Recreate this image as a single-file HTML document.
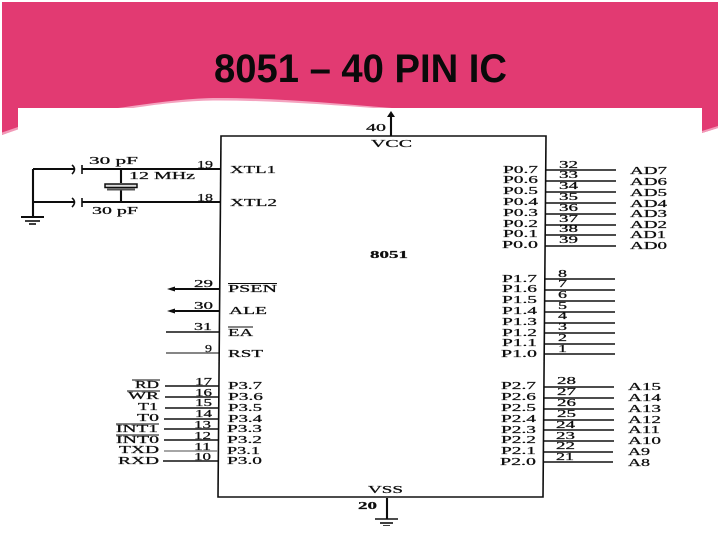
<!DOCTYPE html>
<html><head><meta charset="utf-8"><style>
html,body{margin:0;padding:0;background:#fff;width:720px;height:540px;overflow:hidden}
svg{display:block}
.d text{font-family:"Liberation Serif",serif;font-size:11px;fill:#111;stroke:#111;stroke-width:.25}
.d line,.d polyline,.d polygon.o,.d path.o{stroke:#111;stroke-width:1.6;fill:none}
.d .k{stroke-width:2.1}
</style></head><body>
<svg width="720" height="540" viewBox="0 0 720 540" xmlns="http://www.w3.org/2000/svg">
<defs><filter id="b" x="0" y="0" width="100%" height="100%"><feGaussianBlur stdDeviation="0.3"/></filter></defs>
<path d="M2,2 H718 V128 L702,133 V108 H18 V129 L2,135 Z" fill="#e23a72"/>
<path d="M2,132.500 L18,127 V129.500 L2,135 Z" fill="#f29ab8"/>
<path d="M702,131 L718,126 V128 L702,133 Z" fill="#f29ab8"/>
<path d="M118,108 C160,102 190,98 218,98 C280,98 340,104 392,108 Z" fill="#f4a3bf"/>
<path d="M130,108.500 C165,103 192,100.500 218,100.500 C275,100.500 330,105 380,108.500 Z" fill="#fff"/>
<rect x="18" y="108" width="684" height="432" fill="#fff"/>
<text x="214" y="82" font-family="'Liberation Sans',sans-serif" font-weight="700" font-size="40" fill="#0a0a0a" textLength="293" lengthAdjust="spacingAndGlyphs">8051 – 40 PIN IC</text>

<g class="d" filter="url(#b)">
<polygon class="o k" points="221,136 546,136 543,497 218,497"/>
<line class="k" x1="391" y1="136" x2="391" y2="116"/>
<polygon points="391,111 387,117 395,117" fill="#111"/>
<text x="366" y="131" textLength="20" lengthAdjust="spacingAndGlyphs">40</text>
<text x="371" y="147" textLength="41" lengthAdjust="spacingAndGlyphs">VCC</text>
<text x="370" y="258" textLength="38" lengthAdjust="spacingAndGlyphs" font-weight="700">8051</text>
<text x="368" y="493" textLength="35" lengthAdjust="spacingAndGlyphs">VSS</text>
<text x="358" y="509" textLength="19" lengthAdjust="spacingAndGlyphs" font-weight="700">20</text>
<line class="k" x1="387" y1="498" x2="387" y2="519"/>
<line x1="375" y1="519" x2="398" y2="519"/><line x1="380" y1="523" x2="393" y2="523"/><line x1="383" y1="526" x2="390" y2="526"/>

<!-- crystal -->
<line class="k" x1="33" y1="169" x2="33" y2="217"/>
<line class="k" x1="33" y1="169" x2="74" y2="169"/>
<line class="k" x1="33" y1="202" x2="74" y2="202"/>
<path class="o k" d="M72,165 Q77,169 72,174"/><path class="o k" d="M72,198 Q77,202 72,207"/>
<line x1="82" y1="165" x2="82" y2="174"/><line x1="82" y1="198" x2="82" y2="207"/>
<line class="k" x1="82" y1="169" x2="221" y2="169"/><line class="k" x1="82" y1="202" x2="221" y2="202"/>
<line class="k" x1="21" y1="217" x2="44" y2="217"/><line x1="25" y1="221" x2="40" y2="221"/><line x1="29" y1="224" x2="36" y2="224"/>
<line class="k" x1="121" y1="169" x2="121" y2="183"/><line class="k" x1="121" y1="190" x2="121" y2="202"/>
<rect x="105" y="184" width="32" height="3.500" fill="#ddd" stroke="#111" stroke-width="1.500"/>
<line x1="107" y1="189.500" x2="135" y2="189.500" style="stroke:#555;stroke-width:2"/>
<text x="89" y="164" textLength="49" lengthAdjust="spacingAndGlyphs">30 pF</text>
<text x="129" y="179" textLength="66" lengthAdjust="spacingAndGlyphs">12 MHz</text>
<text x="92" y="214" textLength="46" lengthAdjust="spacingAndGlyphs">30 pF</text>
<text x="197" y="168" textLength="16" lengthAdjust="spacingAndGlyphs">19</text>
<text x="197" y="201" textLength="16" lengthAdjust="spacingAndGlyphs">18</text>
<text x="230" y="173" textLength="46" lengthAdjust="spacingAndGlyphs">XTL1</text>
<text x="230" y="206" textLength="47" lengthAdjust="spacingAndGlyphs">XTL2</text>

<!-- control -->
<line class="k" x1="172" y1="289" x2="220" y2="289"/><polygon points="167,289 175,286.500 175,291.500" fill="#111"/>
<line class="k" x1="172" y1="311" x2="220" y2="311"/><polygon points="167,311 175,308.500 175,313.500" fill="#111"/>
<line x1="166" y1="332" x2="220" y2="332"/>
<line x1="166" y1="353" x2="219" y2="353" style="stroke-width:1"/>
<text x="194" y="287" textLength="19" lengthAdjust="spacingAndGlyphs">29</text>
<text x="194" y="309" textLength="19" lengthAdjust="spacingAndGlyphs">30</text>
<text x="194" y="330" textLength="18" lengthAdjust="spacingAndGlyphs">31</text>
<text x="205" y="352" textLength="7" lengthAdjust="spacingAndGlyphs">9</text>
<text x="228" y="292" textLength="49" lengthAdjust="spacingAndGlyphs">PSEN</text><line x1="228" y1="283.500" x2="277" y2="283.500" style="stroke-width:1"/>
<text x="229" y="314" textLength="38" lengthAdjust="spacingAndGlyphs">ALE</text>
<text x="228" y="336" textLength="25" lengthAdjust="spacingAndGlyphs">EA</text><line x1="228" y1="327" x2="253" y2="327" style="stroke-width:1"/>
<text x="228" y="357" textLength="35" lengthAdjust="spacingAndGlyphs">RST</text>

<!-- P3 -->
<line x1="165" y1="386" x2="219" y2="386"/><line x1="165" y1="397" x2="219" y2="397"/><line x1="165" y1="408" x2="219" y2="408"/><line x1="164" y1="419" x2="219" y2="419"/><line x1="164" y1="429" x2="219" y2="429"/><line x1="164" y1="440" x2="218" y2="440"/><line x1="164" y1="451" x2="218" y2="451" style="stroke:#888"/><line x1="163" y1="461" x2="218" y2="461"/>
<text x="195" y="385" textLength="17" lengthAdjust="spacingAndGlyphs">17</text><text x="195" y="396" textLength="17" lengthAdjust="spacingAndGlyphs">16</text><text x="195" y="406" textLength="17" lengthAdjust="spacingAndGlyphs">15</text><text x="195" y="417" textLength="17" lengthAdjust="spacingAndGlyphs">14</text><text x="194" y="428" textLength="17" lengthAdjust="spacingAndGlyphs">13</text><text x="194" y="439" textLength="17" lengthAdjust="spacingAndGlyphs">12</text><text x="194" y="450" textLength="17" lengthAdjust="spacingAndGlyphs">11</text><text x="194" y="460" textLength="17" lengthAdjust="spacingAndGlyphs">10</text>
<text x="228" y="389" textLength="34" lengthAdjust="spacingAndGlyphs">P3.7</text><text x="228" y="400" textLength="35" lengthAdjust="spacingAndGlyphs">P3.6</text><text x="228" y="411" textLength="34" lengthAdjust="spacingAndGlyphs">P3.5</text><text x="228" y="422" textLength="34" lengthAdjust="spacingAndGlyphs">P3.4</text><text x="227" y="432" textLength="35" lengthAdjust="spacingAndGlyphs">P3.3</text><text x="227" y="443" textLength="35" lengthAdjust="spacingAndGlyphs">P3.2</text><text x="227" y="454" textLength="33" lengthAdjust="spacingAndGlyphs">P3.1</text><text x="227" y="464" textLength="35" lengthAdjust="spacingAndGlyphs">P3.0</text>
<text x="135" y="388" textLength="24" lengthAdjust="spacingAndGlyphs">RD</text><line x1="132" y1="380" x2="160" y2="380" style="stroke-width:1"/>
<text x="128" y="399" textLength="31" lengthAdjust="spacingAndGlyphs">WR</text><line x1="127" y1="391" x2="160" y2="391" style="stroke-width:1"/>
<text x="138" y="410" textLength="20" lengthAdjust="spacingAndGlyphs">T1</text>
<text x="137" y="421" textLength="22" lengthAdjust="spacingAndGlyphs">T0</text>
<text x="116" y="432" textLength="42" lengthAdjust="spacingAndGlyphs">INT1</text><line x1="116" y1="424" x2="159" y2="424" style="stroke-width:1"/>
<text x="116" y="443" textLength="43" lengthAdjust="spacingAndGlyphs">INT0</text><line x1="116" y1="435" x2="159" y2="435" style="stroke-width:1"/>
<text x="119" y="453" textLength="40" lengthAdjust="spacingAndGlyphs">TXD</text>
<text x="118" y="464" textLength="41" lengthAdjust="spacingAndGlyphs">RXD</text>

<!-- P0 -->
<line x1="546" y1="170" x2="616" y2="170"/><line x1="546" y1="181" x2="616" y2="181"/><line x1="546" y1="192" x2="616" y2="192"/><line x1="546" y1="203" x2="616" y2="203"/><line x1="546" y1="214" x2="616" y2="214"/><line x1="546" y1="225" x2="616" y2="225"/><line x1="545" y1="235" x2="616" y2="235"/><line x1="545" y1="246" x2="616" y2="246"/>
<text x="559" y="168" textLength="19" lengthAdjust="spacingAndGlyphs">32</text><text x="559" y="178" textLength="19" lengthAdjust="spacingAndGlyphs">33</text><text x="559" y="189" textLength="19" lengthAdjust="spacingAndGlyphs">34</text><text x="559" y="200" textLength="19" lengthAdjust="spacingAndGlyphs">35</text><text x="559" y="211" textLength="19" lengthAdjust="spacingAndGlyphs">36</text><text x="559" y="222" textLength="19" lengthAdjust="spacingAndGlyphs">37</text><text x="559" y="232" textLength="19" lengthAdjust="spacingAndGlyphs">38</text><text x="559" y="243" textLength="19" lengthAdjust="spacingAndGlyphs">39</text>
<text x="503" y="173" textLength="35" lengthAdjust="spacingAndGlyphs">P0.7</text><text x="503" y="183" textLength="35" lengthAdjust="spacingAndGlyphs">P0.6</text><text x="503" y="194" textLength="35" lengthAdjust="spacingAndGlyphs">P0.5</text><text x="503" y="205" textLength="35" lengthAdjust="spacingAndGlyphs">P0.4</text><text x="503" y="216" textLength="35" lengthAdjust="spacingAndGlyphs">P0.3</text><text x="503" y="227" textLength="35" lengthAdjust="spacingAndGlyphs">P0.2</text><text x="503" y="237" textLength="35" lengthAdjust="spacingAndGlyphs">P0.1</text><text x="502" y="248" textLength="36" lengthAdjust="spacingAndGlyphs">P0.0</text>
<text x="630" y="174" textLength="37" lengthAdjust="spacingAndGlyphs">AD7</text><text x="630" y="185" textLength="37" lengthAdjust="spacingAndGlyphs">AD6</text><text x="630" y="196" textLength="37" lengthAdjust="spacingAndGlyphs">AD5</text><text x="630" y="207" textLength="37" lengthAdjust="spacingAndGlyphs">AD4</text><text x="630" y="217" textLength="37" lengthAdjust="spacingAndGlyphs">AD3</text><text x="630" y="228" textLength="37" lengthAdjust="spacingAndGlyphs">AD2</text><text x="630" y="238" textLength="36" lengthAdjust="spacingAndGlyphs">AD1</text><text x="630" y="249" textLength="37" lengthAdjust="spacingAndGlyphs">AD0</text>

<!-- P1 -->
<line x1="545" y1="279" x2="615" y2="279"/><line x1="545" y1="290" x2="615" y2="290"/><line x1="545" y1="301" x2="615" y2="301"/><line x1="545" y1="312" x2="615" y2="312"/><line x1="545" y1="323" x2="615" y2="323"/><line x1="545" y1="333" x2="615" y2="333"/><line x1="545" y1="344" x2="615" y2="344"/><line x1="544" y1="354" x2="615" y2="354"/>
<text x="558" y="277" textLength="9" lengthAdjust="spacingAndGlyphs">8</text><text x="558" y="287" textLength="9" lengthAdjust="spacingAndGlyphs">7</text><text x="558" y="298" textLength="9" lengthAdjust="spacingAndGlyphs">6</text><text x="558" y="309" textLength="9" lengthAdjust="spacingAndGlyphs">5</text><text x="558" y="319" textLength="9" lengthAdjust="spacingAndGlyphs">4</text><text x="558" y="330" textLength="9" lengthAdjust="spacingAndGlyphs">3</text><text x="558" y="341" textLength="9" lengthAdjust="spacingAndGlyphs">2</text><text x="558" y="352" textLength="9" lengthAdjust="spacingAndGlyphs">1</text>
<text x="502" y="282" textLength="35" lengthAdjust="spacingAndGlyphs">P1.7</text><text x="502" y="292" textLength="35" lengthAdjust="spacingAndGlyphs">P1.6</text><text x="502" y="303" textLength="35" lengthAdjust="spacingAndGlyphs">P1.5</text><text x="502" y="314" textLength="35" lengthAdjust="spacingAndGlyphs">P1.4</text><text x="502" y="325" textLength="35" lengthAdjust="spacingAndGlyphs">P1.3</text><text x="502" y="336" textLength="35" lengthAdjust="spacingAndGlyphs">P1.2</text><text x="502" y="346" textLength="35" lengthAdjust="spacingAndGlyphs">P1.1</text><text x="501" y="357" textLength="36" lengthAdjust="spacingAndGlyphs">P1.0</text>

<!-- P2 -->
<line x1="544" y1="387" x2="614" y2="387"/><line x1="544" y1="398" x2="614" y2="398"/><line x1="544" y1="409" x2="614" y2="409"/><line x1="544" y1="420" x2="614" y2="420"/><line x1="544" y1="430" x2="614" y2="430"/><line x1="544" y1="441" x2="614" y2="441"/><line x1="543" y1="452" x2="613" y2="452"/><line x1="543" y1="462" x2="613" y2="462"/>
<text x="557" y="384" textLength="19" lengthAdjust="spacingAndGlyphs">28</text><text x="557" y="395" textLength="19" lengthAdjust="spacingAndGlyphs">27</text><text x="557" y="406" textLength="19" lengthAdjust="spacingAndGlyphs">26</text><text x="557" y="417" textLength="19" lengthAdjust="spacingAndGlyphs">25</text><text x="556" y="428" textLength="19" lengthAdjust="spacingAndGlyphs">24</text><text x="556" y="439" textLength="19" lengthAdjust="spacingAndGlyphs">23</text><text x="556" y="449" textLength="19" lengthAdjust="spacingAndGlyphs">22</text><text x="556" y="460" textLength="18" lengthAdjust="spacingAndGlyphs">21</text>
<text x="501" y="389" textLength="35" lengthAdjust="spacingAndGlyphs">P2.7</text><text x="501" y="400" textLength="35" lengthAdjust="spacingAndGlyphs">P2.6</text><text x="501" y="411" textLength="35" lengthAdjust="spacingAndGlyphs">P2.5</text><text x="501" y="422" textLength="35" lengthAdjust="spacingAndGlyphs">P2.4</text><text x="501" y="433" textLength="35" lengthAdjust="spacingAndGlyphs">P2.3</text><text x="501" y="443" textLength="35" lengthAdjust="spacingAndGlyphs">P2.2</text><text x="501" y="454" textLength="35" lengthAdjust="spacingAndGlyphs">P2.1</text><text x="500" y="465" textLength="36" lengthAdjust="spacingAndGlyphs">P2.0</text>
<text x="628" y="390" textLength="33" lengthAdjust="spacingAndGlyphs">A15</text><text x="628" y="401" textLength="33" lengthAdjust="spacingAndGlyphs">A14</text><text x="628" y="412" textLength="33" lengthAdjust="spacingAndGlyphs">A13</text><text x="628" y="423" textLength="33" lengthAdjust="spacingAndGlyphs">A12</text><text x="628" y="433" textLength="32" lengthAdjust="spacingAndGlyphs">A11</text><text x="628" y="444" textLength="33" lengthAdjust="spacingAndGlyphs">A10</text><text x="628" y="455" textLength="22" lengthAdjust="spacingAndGlyphs">A9</text><text x="628" y="466" textLength="22" lengthAdjust="spacingAndGlyphs">A8</text>
</g>
</svg>
</body></html>
